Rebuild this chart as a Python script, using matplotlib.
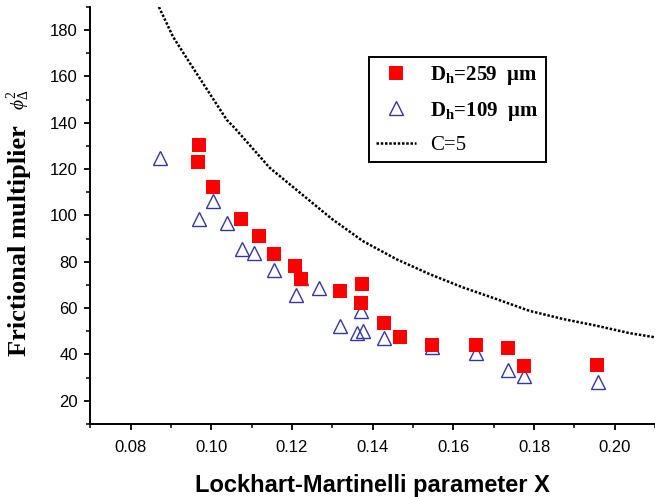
import matplotlib
matplotlib.use('Agg')
import matplotlib.pyplot as plt
from matplotlib.ticker import MultipleLocator

plt.rcParams['mathtext.fontset'] = 'custom'
plt.rcParams['mathtext.rm'] = 'Liberation Serif'
plt.rcParams['mathtext.it'] = 'Liberation Serif:italic'
plt.rcParams['mathtext.bf'] = 'Liberation Serif:bold'

# D_h = 259 um (filled red squares)
x_259 = [0.0970, 0.0968, 0.1004, 0.1074, 0.1118, 0.1155, 0.1208, 0.1221, 0.1320,
         0.1374, 0.1370, 0.1427, 0.1468, 0.1546, 0.1655, 0.1736, 0.1775, 0.1957]
y_259 = [130.5, 123.1, 112.2, 98.6, 91.3, 83.2, 78.2, 72.5, 67.4,
         70.6, 62.0, 53.4, 47.4, 44.1, 44.1, 42.7, 34.8, 35.5]

# D_h = 109 um (open blue triangles)
x_109 = [0.0872, 0.1004, 0.0970, 0.1039, 0.1075, 0.1105, 0.1156, 0.1222, 0.1211, 0.1266,
         0.1320, 0.1370, 0.1360, 0.1376, 0.1428, 0.1547, 0.1655, 0.1736, 0.1776, 0.1958]
y_109 = [124.8, 106.2, 98.6, 96.6, 85.7, 84.0, 76.6, 72.8, 65.6, 68.5,
         52.1, 58.6, 49.2, 50.2, 47.0, 43.1, 40.6, 33.3, 30.8, 28.0]

# C=5 curve
x_c5 = [0.0870, 0.0905, 0.0947, 0.1038, 0.1058, 0.1145, 0.1298, 0.1376, 0.1459, 0.1542,
        0.1624, 0.1707, 0.1789, 0.1872, 0.1955, 0.2037, 0.2100]
y_c5 = [190.0, 177.1, 165.7, 141.3, 137.7, 120.5, 98.6, 88.9, 81.1, 74.6,
        68.9, 63.9, 58.8, 55.3, 52.4, 49.2, 47.4]

fig = plt.figure(figsize=(6.55, 4.97), dpi=100)
ax = fig.add_axes([0.138, 0.147, 0.862, 0.839])

ax.plot(x_259, y_259, 's', color='#ff0000', markersize=9.5, markeredgewidth=0,
        label=r'D$_{\mathbf{h}}$=259  μm', zorder=3)
ax.plot(x_109, y_109, '^', markerfacecolor='none', markeredgecolor='#3535a5',
        markersize=10.5, markeredgewidth=1.0, label=r'D$_{\mathbf{h}}$=109  μm', zorder=2)
ax.plot(x_c5, y_c5, color='black', linewidth=1.8, linestyle=(0, (1.0, 0.7)),
        label='C=5', zorder=1)

ax.set_xlim(0.07, 0.21)
ax.set_ylim(10, 190)
ax.set_xticks([0.08, 0.10, 0.12, 0.14, 0.16, 0.18, 0.20])
ax.xaxis.set_minor_locator(MultipleLocator(0.01))
ax.set_yticks(range(20, 181, 20))
ax.yaxis.set_minor_locator(MultipleLocator(10))

for s in ['top', 'right']:
    ax.spines[s].set_visible(False)
for s in ['left', 'bottom']:
    ax.spines[s].set_linewidth(1.4)

ax.tick_params(which='major', direction='out', length=4.5, width=1.3, labelsize=12)
ax.tick_params(which='minor', direction='out', length=2.6, width=1.1)
ax.tick_params(axis='x', which='major', pad=7)
ax.tick_params(axis='y', which='major', pad=4.5)
for lab in ax.get_xticklabels() + ax.get_yticklabels():
    lab.set_family('Liberation Sans')

ax.set_xlabel('Lockhart-Martinelli parameter X', family='Liberation Sans',
              fontweight='bold', fontsize=17)
ax.xaxis.set_label_coords(0.5, -0.12)

# y label: big bold words plus a small phi symbol above them
fig.text(20 / 655, 1 - 241 / 497, 'Frictional multiplier', family='Liberation Serif',
         fontweight='bold', fontsize=19, rotation=90, ha='center', va='center')
fig.text(19 / 655, 1 - 100 / 497, r'$\phi^{2}_{\Delta}$', fontsize=14,
         rotation=90, ha='center', va='center')

leg = ax.legend(loc='upper left', bbox_to_anchor=(369 / 655, 1 - 57 / 497),
                bbox_transform=fig.transFigure, borderaxespad=0,
                prop={'family': 'Liberation Serif', 'weight': 'bold', 'size': 15},
                fancybox=False, framealpha=1, edgecolor='black',
                labelspacing=0.6, handlelength=1.9, handletextpad=0.7,
                borderpad=0.35, numpoints=1)
leg.get_frame().set_linewidth(1.4)
leg.get_texts()[2].set_fontweight('normal')

fig.savefig('out.png', dpi=100)
